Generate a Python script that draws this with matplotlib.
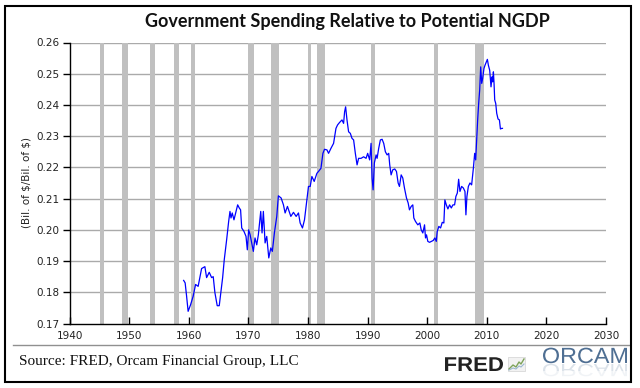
import matplotlib
matplotlib.use("Agg")
import matplotlib.pyplot as plt
from matplotlib.patches import Rectangle, PathPatch
from matplotlib.textpath import TextPath
from matplotlib.font_manager import FontProperties
from matplotlib.transforms import Affine2D
from matplotlib.lines import Line2D

plt.rcParams["font.family"] = ["DejaVu Sans"]

title = "Government Spending Relative to Potential NGDP"
ylabel = r"(Bil. of \$/Bil. of \$)"
source = "Source: FRED, Orcam Financial Group, LLC"

x_ticks = [1940, 1950, 1960, 1970, 1980, 1990, 2000, 2010, 2020, 2030]
y_ticks = [0.17, 0.18, 0.19, 0.20, 0.21, 0.22, 0.23, 0.24, 0.25, 0.26]

recession_start = [1945.1, 1948.85, 1953.55, 1957.6, 1960.3, 1969.95, 1973.85, 1980.0, 1981.5, 1990.55, 2001.2, 2007.95]
recession_end = [1945.8, 1949.8, 1954.4, 1958.3, 1961.1, 1970.9, 1975.2, 1980.5, 1982.9, 1991.2, 2001.9, 2009.5]

years = [1959.15, 1959.4, 1959.63, 1959.9, 1960.31, 1960.74, 1961.15, 1961.58, 1961.87, 1962.16,
         1962.71, 1963.0, 1963.44, 1963.84, 1964.11, 1964.39, 1964.78, 1965.12, 1965.35, 1965.69,
         1965.96, 1966.36, 1966.7, 1966.92, 1967.09, 1967.3, 1967.59, 1967.93, 1968.21, 1968.48,
         1968.7, 1968.89, 1969.27, 1969.61, 1969.83, 1970.05, 1970.3, 1970.84, 1971.12, 1971.41,
         1971.68, 1972.08, 1972.3, 1972.52, 1972.81, 1973.09, 1973.43, 1973.77, 1974.03, 1974.37,
         1974.77, 1975.04, 1975.5, 1975.89, 1976.17, 1976.56, 1977.13, 1977.57, 1978.02, 1978.41,
         1978.69, 1979.08, 1979.42, 1979.82, 1980.09, 1980.38, 1980.66, 1981.05, 1981.5, 1981.77,
         1982.18, 1982.51, 1982.78, 1983.19, 1983.46, 1983.86, 1984.3, 1984.7, 1984.97, 1985.31,
         1985.71, 1985.98, 1986.15, 1986.32, 1986.55, 1986.82, 1987.11, 1987.39, 1987.66, 1987.95,
         1988.24, 1988.5, 1988.91, 1989.34, 1989.75, 1990.02, 1990.35, 1990.59, 1990.76, 1990.93,
         1991.14, 1991.43, 1991.6, 1991.87, 1992.15, 1992.44, 1992.71, 1992.99, 1993.28, 1993.55,
         1993.72, 1993.95, 1994.22, 1994.56, 1994.85, 1995.13, 1995.35, 1995.64, 1995.91, 1996.19,
         1996.53, 1996.81, 1997.03, 1997.32, 1997.59, 1997.76, 1998.04, 1998.43, 1998.77, 1999.0,
         1999.27, 1999.56, 1999.72, 1999.89, 2000.11, 2000.4, 2000.73, 2001.02, 2001.29, 2001.53,
         2001.69, 2001.96, 2002.25, 2002.53, 2002.8, 2002.97, 2003.21, 2003.48, 2003.76, 2004.05,
         2004.32, 2004.6, 2004.82, 2005.06, 2005.28, 2005.5, 2005.78, 2006.07, 2006.34, 2006.5,
         2006.67, 2006.91, 2007.18, 2007.46, 2007.75, 2007.97, 2008.14, 2008.31, 2008.47, 2008.64,
         2008.81, 2008.98, 2009.15, 2009.31, 2009.53, 2009.7, 2009.94, 2010.1, 2010.27, 2010.49,
         2010.71, 2010.88, 2011.0, 2011.11, 2011.22, 2011.33, 2011.5, 2011.67, 2011.89, 2012.12,
         2012.29, 2012.51, 2012.63]
values = [0.1838, 0.1830, 0.1790, 0.1739, 0.1760, 0.1787, 0.1825, 0.1819, 0.1847, 0.1876,
          0.1882, 0.1847, 0.1864, 0.1847, 0.1850, 0.1799, 0.1757, 0.1757, 0.1793, 0.1847,
          0.1904, 0.1968, 0.2027, 0.2059, 0.2038, 0.2054, 0.2032, 0.2059, 0.2080, 0.2070,
          0.2064, 0.2006, 0.1995, 0.1979, 0.1936, 0.2000, 0.1984, 0.1931, 0.1974, 0.1952,
          0.1984, 0.2059, 0.1990, 0.2059, 0.1958, 0.1979, 0.1910, 0.1942, 0.1931, 0.1990,
          0.2043, 0.2109, 0.2102, 0.2080, 0.2054, 0.2075, 0.2043, 0.2056, 0.2043, 0.2054,
          0.2022, 0.2006, 0.2032, 0.2095, 0.2139, 0.2139, 0.2171, 0.2155, 0.2181, 0.2187,
          0.2197, 0.2245, 0.2258, 0.2256, 0.2245, 0.2261, 0.2277, 0.2325, 0.2336, 0.2344,
          0.2352, 0.2341, 0.2378, 0.2394, 0.2352, 0.2314, 0.2309, 0.2293, 0.2288, 0.2245,
          0.2208, 0.2229, 0.2229, 0.2234, 0.2229, 0.2245, 0.2224, 0.2277, 0.2166, 0.2128,
          0.2214, 0.2240, 0.2229, 0.2261, 0.2288, 0.2290, 0.2277, 0.2250, 0.2240, 0.2245,
          0.2208, 0.2176, 0.2192, 0.2195, 0.2187, 0.2150, 0.2139, 0.2176, 0.2166, 0.2134,
          0.2102, 0.2086, 0.2064, 0.2075, 0.2080, 0.2038, 0.2027, 0.2016, 0.2022, 0.2000,
          0.1990, 0.2016, 0.1974, 0.1984, 0.1963, 0.1960, 0.1963, 0.1966, 0.1974, 0.1963,
          0.1995, 0.2011, 0.2006, 0.2024, 0.2022, 0.2096, 0.2080, 0.2067, 0.2080, 0.2070,
          0.2080, 0.2080, 0.2107, 0.2118, 0.2162, 0.2123, 0.2139, 0.2134, 0.2123, 0.2048,
          0.2107, 0.2139, 0.2150, 0.2144, 0.2197, 0.2245, 0.2224, 0.2288, 0.2352, 0.2405,
          0.2448, 0.2522, 0.2469, 0.2485, 0.2517, 0.2527, 0.2538, 0.2546, 0.2527, 0.2511,
          0.2458, 0.2490, 0.2474, 0.2506, 0.2469, 0.2416, 0.2405, 0.2373, 0.2355, 0.2352,
          0.2323, 0.2325, 0.2325]

W, H = 640, 388
fig = plt.figure(figsize=(W / 100, H / 100), dpi=100)
fig.patch.set_facecolor("white")

def fx(px):
    return px / W

def fy(py):
    return 1 - py / H

ax = fig.add_axes([fx(69.5), fy(323.5), fx(606) - fx(69.5), fy(42.5) - fy(323.5)])
ax.set_xlim(1940, 2030)
ax.set_ylim(0.17, 0.26)

for s, e in zip(recession_start, recession_end):
    ax.axvspan(s, e, color="#c0c0c0", lw=0, zorder=1)

for v in y_ticks[1:]:
    ax.axhline(v, color="#aaaaaa", lw=1, zorder=0.5)

ax.plot(years, values, color="#0000ff", lw=0.9, zorder=3)

for sp in ["top", "right"]:
    ax.spines[sp].set_visible(False)
for sp in ["left", "bottom"]:
    ax.spines[sp].set_color("black")
    ax.spines[sp].set_linewidth(1)

ax.set_xticks(x_ticks)
ax.set_xticklabels([str(t) for t in x_ticks])
ax.set_yticks(y_ticks)
ax.set_yticklabels([f"{t:.2f}" for t in y_ticks])
ax.tick_params(axis="x", direction="in", length=5, width=1, labelsize=7.5, pad=5.5, colors="black")
ax.tick_params(axis="y", direction="out", length=5, width=1, labelsize=7.5, pad=2, colors="black")
for lab in ax.get_xticklabels() + ax.get_yticklabels():
    lab.set_color("#222222")

ax.set_ylabel(ylabel, fontsize=7.5, color="#222222", labelpad=4)

fig.text(fx(347), fy(21), title, ha="center", va="center", fontsize=13,
         fontweight="bold", family="Lato", color="#111111")

# separator
fig.add_artist(Line2D([fx(13), fx(630)], [fy(344.5), fy(344.5)], color="#909090", lw=1))

fig.text(fx(19), fy(362), source, ha="left", va="center", fontsize=11,
         family="Liberation Serif", color="#111111")

# overlay in pixel coordinates for logos
ov = fig.add_axes([0, 0, 1, 1], zorder=5)
ov.set_xlim(0, W)
ov.set_ylim(H, 0)
ov.axis("off")
ov.patch.set_alpha(0)

fred_fp = FontProperties(family="Liberation Sans", weight="bold")
fred_path = TextPath((0, 0), "FRED", size=20, prop=fred_fp)
bb = fred_path.get_extents()
sx = 58 / bb.width
fred_tr = Affine2D().scale(sx, -1.0).translate(445 - bb.x0 * sx, 371)
ov.add_patch(PathPatch(fred_tr.transform_path(fred_path), color="#222222", lw=0))

# small chart icon next to FRED
ov.add_patch(Rectangle((508, 357), 17, 14, facecolor="#f2f2f2", edgecolor="#d8d8d8", lw=0.6))
ov.plot([509, 513, 516, 519, 521, 524], [369, 365, 367, 362, 364, 359], color="#7da35a", lw=1)
ov.plot([509, 513, 516, 519, 521, 524], [370, 368, 369, 366, 367, 364], color="#9bb7d0", lw=0.8)

# ORCAM logo with reflection
orc_fp = FontProperties(family="Liberation Sans")
orc_path = TextPath((0, 0), "ORCAM", size=22, prop=orc_fp)
ob = orc_path.get_extents()
osx = 84 / ob.width
orc_main = Affine2D().scale(osx, -1.0).translate(543 - ob.x0 * osx, 363)
ov.add_patch(PathPatch(orc_main.transform_path(orc_path), color="#4f6f93", lw=0))
orc_ref = Affine2D().scale(osx, 0.8).translate(543 - ob.x0 * osx, 364)
ov.add_patch(PathPatch(orc_ref.transform_path(orc_path), color="#4f6f93", lw=0, alpha=0.2))
ov.add_patch(Rectangle((538, 371), 95, 10, facecolor="white", edgecolor="none", alpha=0.6))

# outer border
fig.add_artist(Rectangle((fx(5), fy(382)), fx(631) - fx(5), fy(6) - fy(382),
                         fill=False, edgecolor="black", lw=1.5, transform=fig.transFigure,
                         zorder=10))

fig.savefig("out.png", dpi=100)
